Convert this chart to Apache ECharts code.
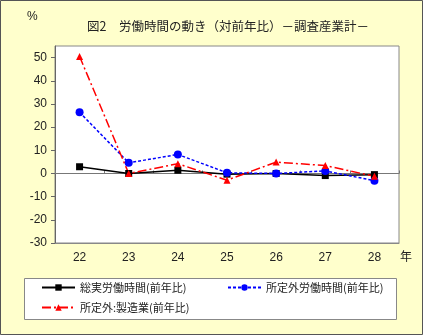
<!DOCTYPE html>
<html><head><meta charset="utf-8">
<script src="https://cdn.jsdelivr.net/npm/echarts@6/dist/echarts.min.js"></script>
<style>html,body{margin:0;padding:0;background:#FFFFCC;}#c{width:423px;height:335px;}</style>
</head><body><div id="c"></div>
<script>
const categories = ['22','23','24','25','26','27','28'];
const totalHours = [2.9, 0.0, 1.4, -0.3, 0.0, -0.9, -0.5];
const overtimeHours = [26.4, 4.6, 8.2, 0.3, 0.0, 1.1, -3.1];
const overtimeMfg = [50.5, 0.0, 4.2, -2.9, 4.9, 3.4, -1.2];
const names = ['総実労働時間(前年比)','所定外労働時間(前年比)','所定外:製造業(前年比)'];
const jp = '"Noto Sans CJK JP", sans-serif';
const num = '"Liberation Sans", Arial, sans-serif';
const chart = echarts.init(document.getElementById('c'));
const legText = {fontFamily:jp,fontSize:11,color:'#222'};
chart.setOption({
  backgroundColor: '#FFFFCC',
  animation: false,
  title: {text: '図2\u3000労働時間の動き（対前年比）－調査産業計－', left: 82, top: 15,
    textStyle: {fontFamily: jp, fontSize: 12.5, fontWeight: 'normal', color: '#222'}},
  graphic: [
    {type:'rect', shape:{x:0.5,y:0.5,width:422,height:334}, style:{fill:'none', stroke:'#555', lineWidth:1}, z:-1},
    {type:'rect', shape:{x:24.5,y:278.5,width:372,height:41}, style:{fill:'#fff', stroke:'#888', lineWidth:1}, z:-1},
    {type:'text', left:27, top:11, style:{text:'%', font:'12px '+num, fill:'#222'}},
    {type:'text', left:400, top:250, style:{text:'年', font:'12px '+jp, fill:'#222'}}
  ],
  legend: [
    {data:[names[0]], left:41, top:282, padding:0, itemWidth:33, itemHeight:8, itemGap:5, textStyle:legText},
    {data:[names[1]], left:227, top:282, padding:0, itemWidth:33, itemHeight:8, itemGap:5, textStyle:legText},
    {data:[names[2]], left:41, top:302, padding:0, itemWidth:33, itemHeight:8, itemGap:5, textStyle:legText}
  ],
  grid: {left:55, right:24, top:46, bottom:92, show:true, backgroundColor:'#fff', borderColor:'#888', borderWidth:1},
  xAxis: [
    {type:'category', data:categories, boundaryGap:true, position:'bottom',
      axisLine:{onZero:false, lineStyle:{color:'#888'}}, axisTick:{show:false},
      axisLabel:{fontFamily:num, fontSize:12, color:'#222', margin:9}},
    {type:'category', data:categories, boundaryGap:true, position:'bottom',
      axisLine:{onZero:true, lineStyle:{color:'#777'}}, axisTick:{show:true, inside:true, length:3, lineStyle:{color:'#777'}},
      axisLabel:{show:false}}
  ],
  yAxis: {type:'value', min:-30, max:55, interval:10,
    axisLine:{show:true, lineStyle:{color:'#666'}}, axisTick:{show:true, length:4, lineStyle:{color:'#666'}},
    splitLine:{show:false},
    axisLabel:{fontFamily:num, fontSize:12, color:'#222', margin:8, showMaxLabel:false}},
  series: [
    {name:names[0], type:'line', data:totalHours, xAxisIndex:0, symbol:'rect', symbolSize:7,
      lineStyle:{color:'#000', width:1.5}, itemStyle:{color:'#000'}},
    {name:names[1], type:'line', data:overtimeHours, xAxisIndex:0, symbol:'circle', symbolSize:8,
      lineStyle:{color:'#0000FF', width:1.5, type:[3,2]}, itemStyle:{color:'#0000FF'}},
    {name:names[2], type:'line', data:overtimeMfg, xAxisIndex:0, symbol:'triangle', symbolSize:7,
      lineStyle:{color:'#FF0000', width:1.5, type:[9,3,2,3]}, itemStyle:{color:'#FF0000'}}
  ]
});
</script></body></html>
